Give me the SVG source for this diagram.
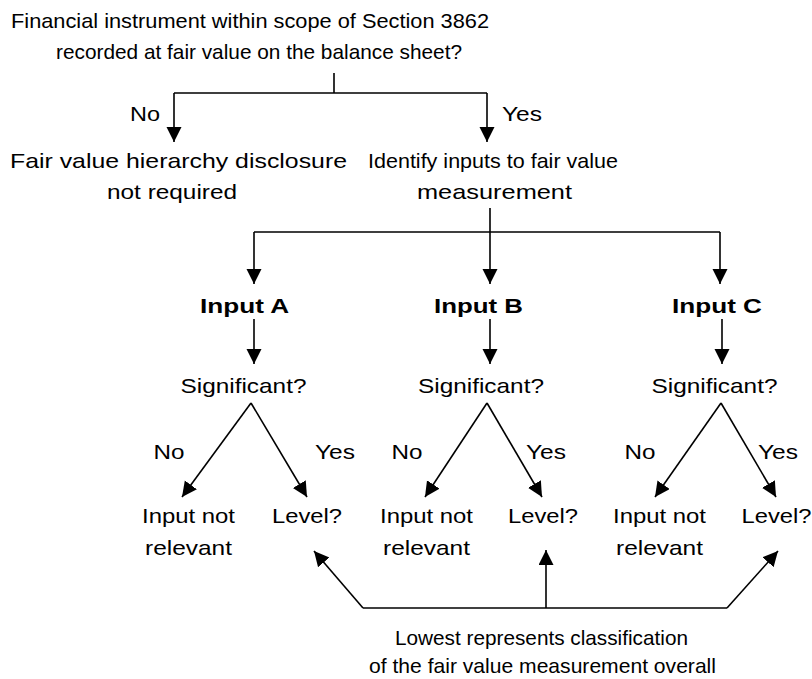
<svg xmlns="http://www.w3.org/2000/svg" width="812" height="679" viewBox="0 0 812 679">
<defs>
<style>
text{font-family:"Liberation Sans",Arial,sans-serif;font-size:21px;fill:#000;text-anchor:middle}
.b{font-weight:bold}
.c{stroke:#000;stroke-width:1.6;fill:none}
.a{marker-end:url(#ah)}
</style>
<marker id="ah" markerUnits="userSpaceOnUse" markerWidth="16" markerHeight="16" refX="15" refY="7.5" orient="auto" viewBox="0 0 16 16">
<path d="M0,0 L15,7.5 L0,15 z" fill="#000"/>
</marker>
</defs>
<rect width="812" height="679" fill="#fff"/>
<g id="connectors">
<path class="c" d="M334,73 V93 M174,93 H487"/>
<path class="c a" d="M174,93 V142"/>
<path class="c a" d="M487,93 V142"/>
<path class="c" d="M490,208 V232 M254,232 H720"/>
<path class="c a" d="M254,232 V284"/>
<path class="c a" d="M490,232 V284"/>
<path class="c a" d="M720,232 V284"/>
<path class="c a" d="M254,319 V364"/>
<path class="c a" d="M490,319 V364"/>
<path class="c a" d="M722,319 V364"/>
<path class="c a" d="M251,403 L182,497"/>
<path class="c a" d="M251,403 L307,497"/>
<path class="c a" d="M487,403 L425,497"/>
<path class="c a" d="M487,403 L542,497"/>
<path class="c a" d="M721,403 L655,497"/>
<path class="c a" d="M721,403 L776,497"/>
<path class="c" d="M363,608 H727"/>
<path class="c a" d="M546,608 V550"/>
<path class="c a" d="M363,608 L314,551"/>
<path class="c a" d="M727,608 L778,551"/>
</g>
<g id="start"><text x="250" y="28" textLength="478" lengthAdjust="spacingAndGlyphs">Financial instrument within scope of Section 3862</text><text x="259" y="59" textLength="406" lengthAdjust="spacingAndGlyphs">recorded at fair value on the balance sheet?</text></g>
<g id="lbl-no1"><text x="145" y="121" textLength="30" lengthAdjust="spacingAndGlyphs">No</text></g>
<g id="lbl-yes1"><text x="522" y="121" textLength="40" lengthAdjust="spacingAndGlyphs">Yes</text></g>
<g id="not-required"><text x="178.5" y="168" textLength="337" lengthAdjust="spacingAndGlyphs">Fair value hierarchy disclosure</text><text x="172" y="199" textLength="130" lengthAdjust="spacingAndGlyphs">not required</text></g>
<g id="identify"><text x="493" y="168" textLength="250" lengthAdjust="spacingAndGlyphs">Identify inputs to fair value</text><text x="494.5" y="199" textLength="155" lengthAdjust="spacingAndGlyphs">measurement</text></g>
<g id="input-a"><text class="b" x="244.5" y="313" textLength="89" lengthAdjust="spacingAndGlyphs">Input A</text></g>
<g id="input-b"><text class="b" x="478.5" y="313" textLength="89" lengthAdjust="spacingAndGlyphs">Input B</text></g>
<g id="input-c"><text class="b" x="717" y="313" textLength="90" lengthAdjust="spacingAndGlyphs">Input C</text></g>
<g id="sig-a"><text x="243.5" y="393" textLength="126" lengthAdjust="spacingAndGlyphs">Significant?</text></g>
<g id="sig-b"><text x="481" y="393" textLength="126" lengthAdjust="spacingAndGlyphs">Significant?</text></g>
<g id="sig-c"><text x="714.5" y="393" textLength="126" lengthAdjust="spacingAndGlyphs">Significant?</text></g>
<g id="lbl-a"><text x="169" y="459" textLength="31" lengthAdjust="spacingAndGlyphs">No</text><text x="335" y="459" textLength="40" lengthAdjust="spacingAndGlyphs">Yes</text></g>
<g id="lbl-b"><text x="407" y="459" textLength="31" lengthAdjust="spacingAndGlyphs">No</text><text x="546" y="459" textLength="40" lengthAdjust="spacingAndGlyphs">Yes</text></g>
<g id="lbl-c"><text x="640" y="459" textLength="31" lengthAdjust="spacingAndGlyphs">No</text><text x="778" y="459" textLength="40" lengthAdjust="spacingAndGlyphs">Yes</text></g>
<g id="nr-a"><text x="188.5" y="523" textLength="93" lengthAdjust="spacingAndGlyphs">Input not</text><text x="188.5" y="555" textLength="87" lengthAdjust="spacingAndGlyphs">relevant</text></g>
<g id="lv-a"><text x="307" y="523" textLength="70" lengthAdjust="spacingAndGlyphs">Level?</text></g>
<g id="nr-b"><text x="426.5" y="523" textLength="93" lengthAdjust="spacingAndGlyphs">Input not</text><text x="426.5" y="555" textLength="87" lengthAdjust="spacingAndGlyphs">relevant</text></g>
<g id="lv-b"><text x="543" y="523" textLength="70" lengthAdjust="spacingAndGlyphs">Level?</text></g>
<g id="nr-c"><text x="659.5" y="523" textLength="93" lengthAdjust="spacingAndGlyphs">Input not</text><text x="659.5" y="555" textLength="87" lengthAdjust="spacingAndGlyphs">relevant</text></g>
<g id="lv-c"><text x="776.5" y="523" textLength="70" lengthAdjust="spacingAndGlyphs">Level?</text></g>
<g id="lowest"><text x="541.5" y="645" textLength="293" lengthAdjust="spacingAndGlyphs">Lowest represents classification</text><text x="542.5" y="673" textLength="347" lengthAdjust="spacingAndGlyphs">of the fair value measurement overall</text></g>
</svg>
